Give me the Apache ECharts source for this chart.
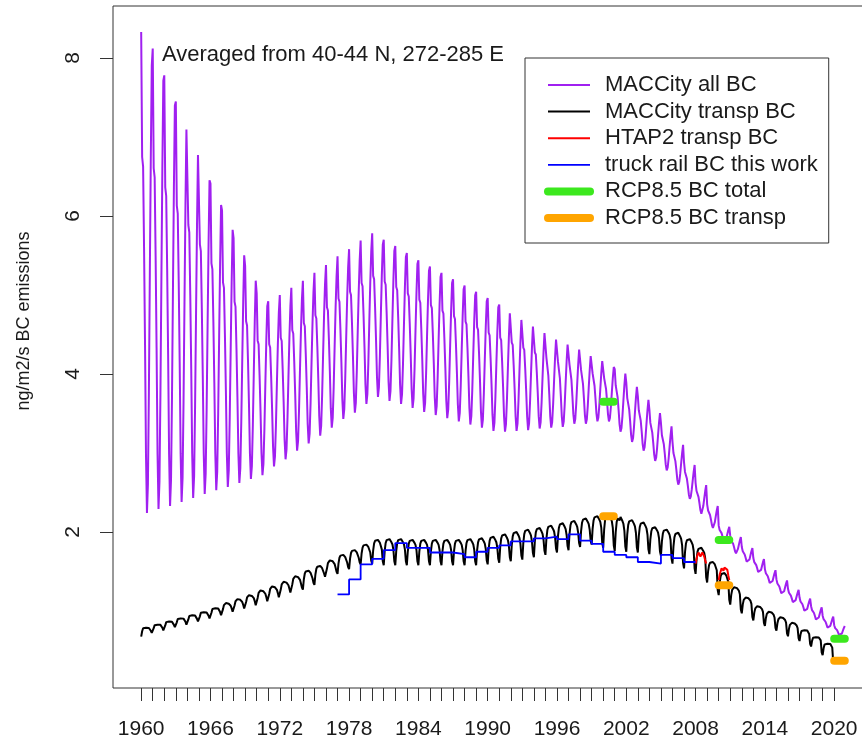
<!DOCTYPE html>
<html><head><meta charset="utf-8">
<script src="https://cdn.jsdelivr.net/npm/echarts@6/dist/echarts.min.js"></script>
<style>html,body{margin:0;padding:0;background:#fff}#c{width:862px;height:742px}</style>
</head><body><div id="c"></div>
<script>
// ---- data ----
const purpleYears = [];
for (let y = 1960; y <= 2020; y++) purpleYears.push(y);
// MACCity all BC: January peak and mid-year trough of each year
const purpleHi = [8.33,8.12,7.78,7.45,7.10,6.75,6.41,6.07,5.72,5.37,
  5.02,4.92,5.00,5.09,5.18,5.28,5.38,5.49,5.58,5.69,
  5.78,5.70,5.62,5.53,5.44,5.36,5.28,5.20,5.12,5.04,
  4.96,4.88,4.79,4.70,4.61,4.52,4.45,4.38,4.29,4.22,
  4.14,4.06,3.89,3.72,3.55,3.38,3.14,2.88,2.62,2.35,
  2.08,1.95,1.81,1.67,1.53,1.40,1.28,1.17,1.06,0.94,0.82];
const purpleLo = [2.24,2.29,2.33,2.38,2.43,2.48,2.53,2.57,2.62,2.67,
  2.72,2.83,2.92,3.03,3.12,3.22,3.32,3.43,3.51,3.62,
  3.71,3.66,3.62,3.57,3.52,3.48,3.44,3.40,3.36,3.32,
  3.28,3.27,3.28,3.29,3.31,3.32,3.33,3.37,3.37,3.40,
  3.40,3.27,3.14,3.03,2.90,2.78,2.60,2.42,2.23,2.05,
  1.87,1.73,1.60,1.47,1.33,1.20,1.09,0.98,0.87,0.77,0.68];
const purpleSeason = [1.0,0.74,0.72,0.55,0.35,0.12,0.0,0.06,0.25,0.5,0.74,0.93];

// MACCity transp BC: summer plateau and January dip (1960-2019; last dip = Jan 2020)
const blackHi = [0.80,0.84,0.88,0.92,0.96,1.00,1.05,1.10,1.15,1.20,
  1.26,1.31,1.37,1.44,1.51,1.57,1.64,1.71,1.77,1.84,
  1.90,1.91,1.91,1.90,1.90,1.90,1.90,1.90,1.91,1.92,
  1.94,1.97,2.00,2.03,2.05,2.08,2.11,2.14,2.17,2.20,
  2.22,2.19,2.15,2.12,2.06,2.03,1.99,1.91,1.80,1.62,
  1.48,1.30,1.17,1.06,0.99,0.92,0.85,0.77,0.68,0.60];
const blackLo = [0.675,0.71,0.74,0.78,0.81,0.85,0.89,0.93,0.97,1.01,
  1.05,1.10,1.15,1.21,1.27,1.33,1.41,1.47,1.53,1.59,
  1.60,1.58,1.58,1.58,1.58,1.58,1.58,1.58,1.58,1.58,
  1.59,1.61,1.63,1.65,1.68,1.71,1.74,1.77,1.81,1.84,
  1.80,1.76,1.75,1.74,1.72,1.70,1.60,1.54,1.47,1.36,
  1.20,1.08,0.97,0.88,0.81,0.75,0.68,0.62,0.55,0.44,0.30];
const blackSeason = [0.0,0.55,0.85,0.96,1.0,0.9,1.0,0.95,0.88,0.8,0.6,0.15];

// HTAP2 transp BC, monthly 2008 and 2010
const htapYears = [2008, 2010];
const htap2008 = [1.60,1.66,1.71,1.74,1.75,1.69,1.70,1.74,1.73,1.69,1.64,1.60];
const htap2010 = [1.39,1.46,1.50,1.54,1.52,1.51,1.55,1.56,1.53,1.52,1.45,1.39];

// truck rail BC this work, annual steps
const blueYears = [1977,1978,1979,1980,1981,1982,1983,1984,1985,1986,1987,1988,1989,1990,1991,1992,
  1993,1994,1995,1996,1997,1998,1999,2000,2001,2002,2003,2004,2005,2006,2007,2008];
const blueVals = [1.21,1.40,1.59,1.66,1.77,1.86,1.80,1.80,1.74,1.74,1.72,1.68,1.75,1.80,1.83,1.88,
  1.88,1.92,1.94,1.91,1.97,1.89,1.85,1.75,1.71,1.68,1.62,1.60,1.71,1.67,1.62,1.62];

// RCP8.5 decadal values
const rcpYears = [2000, 2010, 2020];
const rcpTotal = [3.65, 1.90, 0.65];
const rcpTransp = [2.20, 1.325, 0.37];

const xTickValues = [];
for (let y = 1960; y <= 2020; y++) xTickValues.push(y);
const xLabelValues = [1960,1966,1972,1978,1984,1990,1996,2002,2008,2014,2020];
const yLabelValues = [2,4,6,8];

// ---- build series data ----
const purpleData = [];
purpleYears.forEach((y, i) => {
  for (let m = 0; m < 12; m++) {
    purpleData.push([y + m / 12, purpleLo[i] + purpleSeason[m] * (purpleHi[i] - purpleLo[i])]);
  }
});
const blackData = [];
blackHi.forEach((hi, i) => {
  const y = 1960 + i;
  for (let m = 0; m < 12; m++) {
    const lo = m === 11 ? blackLo[i + 1] : blackLo[i];
    blackData.push([y + m / 12, lo + blackSeason[m] * (hi - lo)]);
  }
});
const htapData = [];
[htap2008, htap2010].forEach((arr, k) => {
  arr.forEach((v, m) => htapData.push([htapYears[k] + m / 12, v]));
  htapData.push([htapYears[k] + 1, '-']);
});
const blueData = blueYears.map((y, i) => [y, blueVals[i]]);
function rcpSeg(vals) {
  const d = [];
  rcpYears.forEach((y, i) => { d.push([y, vals[i]]); d.push([y + 11 / 12, vals[i]]); d.push([y + 1, '-']); });
  return d;
}

const FONT = 'Liberation Sans, Arial, Helvetica, sans-serif';
const TXT = '#1a1a1a';
const chart = echarts.init(document.getElementById('c'), null, {renderer: 'canvas'});
chart.setOption({
  animation: false,
  backgroundColor: '#fff',
  title: {
    text: 'Averaged from 40-44 N, 272-285 E',
    left: 162, top: 44, padding: 0,
    textStyle: {fontFamily: FONT, fontSize: 22, fontWeight: 'normal', color: TXT}
  },
  grid: {left: 113, top: 6, width: 760, height: 682, outerBoundsMode: 'none', containLabel: false,
    show: true, borderColor: '#333', borderWidth: 1, backgroundColor: 'transparent'},
  xAxis: {
    type: 'value', min: 1957.56, max: 2023.36,
    axisLine: {show: false}, splitLine: {show: false},
    axisTick: {show: true, length: 13, customValues: xTickValues, lineStyle: {color: '#333', width: 1}},
    axisLabel: {customValues: xLabelValues, fontFamily: FONT, fontSize: 21, color: TXT, margin: 31,
      formatter: v => String(Math.round(v))}
  },
  yAxis: {
    type: 'value', min: 0.025, max: 8.658,
    axisLine: {show: false}, splitLine: {show: false},
    axisTick: {show: true, length: 13, customValues: yLabelValues, lineStyle: {color: '#333', width: 1}},
    axisLabel: {customValues: yLabelValues, rotate: 90, fontFamily: FONT, fontSize: 21, color: TXT, margin: 29,
      formatter: v => String(Math.round(v))},
    name: 'ng/m2/s BC emissions', nameLocation: 'middle', nameRotate: 90, nameGap: 80,
    nameTextStyle: {fontFamily: FONT, fontSize: 18, color: TXT, padding: [0, 0, 0, 52]}
  },
  legend: {
    orient: 'vertical', left: 525, top: 58,
    padding: [16, 11, 14, 19],
    itemWidth: 42, itemHeight: 14, itemGap: 4.6,
    borderColor: '#333', borderWidth: 1, borderRadius: 0,
    lineStyle: {width: 'inherit', cap: 'inherit'},
    itemStyle: {opacity: 0},
    textStyle: {fontFamily: FONT, fontSize: 22, color: TXT, lineHeight: 22, padding: [0, 0, 0, 10]},
    data: ['MACCity all BC', 'MACCity transp BC', 'HTAP2 transp BC', 'truck rail BC this work', 'RCP8.5 BC total', 'RCP8.5 BC transp']
  },
  series: [
    {name: 'MACCity all BC', type: 'line', data: purpleData, symbol: 'none', lineStyle: {color: '#A020F0', width: 2}, itemStyle: {color: '#A020F0'}, z: 2},
    {name: 'MACCity transp BC', type: 'line', data: blackData, symbol: 'none', lineStyle: {color: '#000', width: 2}, itemStyle: {color: '#000'}, z: 3},
    {name: 'HTAP2 transp BC', type: 'line', data: htapData, symbol: 'none', connectNulls: false, lineStyle: {color: '#FF0000', width: 2}, itemStyle: {color: '#FF0000'}, z: 4},
    {name: 'truck rail BC this work', type: 'line', data: blueData, step: 'end', symbol: 'none', lineStyle: {color: '#0000FF', width: 1.8}, itemStyle: {color: '#0000FF'}, z: 5},
    {name: 'RCP8.5 BC total', type: 'line', data: rcpSeg(rcpTotal), symbol: 'none', connectNulls: false, lineStyle: {color: '#3CE81E', width: 8, cap: 'round'}, itemStyle: {color: '#3CE81E'}, z: 6},
    {name: 'RCP8.5 BC transp', type: 'line', data: rcpSeg(rcpTransp), symbol: 'none', connectNulls: false, lineStyle: {color: '#FFA500', width: 8, cap: 'round'}, itemStyle: {color: '#FFA500'}, z: 7}
  ]
});
</script></body></html>
